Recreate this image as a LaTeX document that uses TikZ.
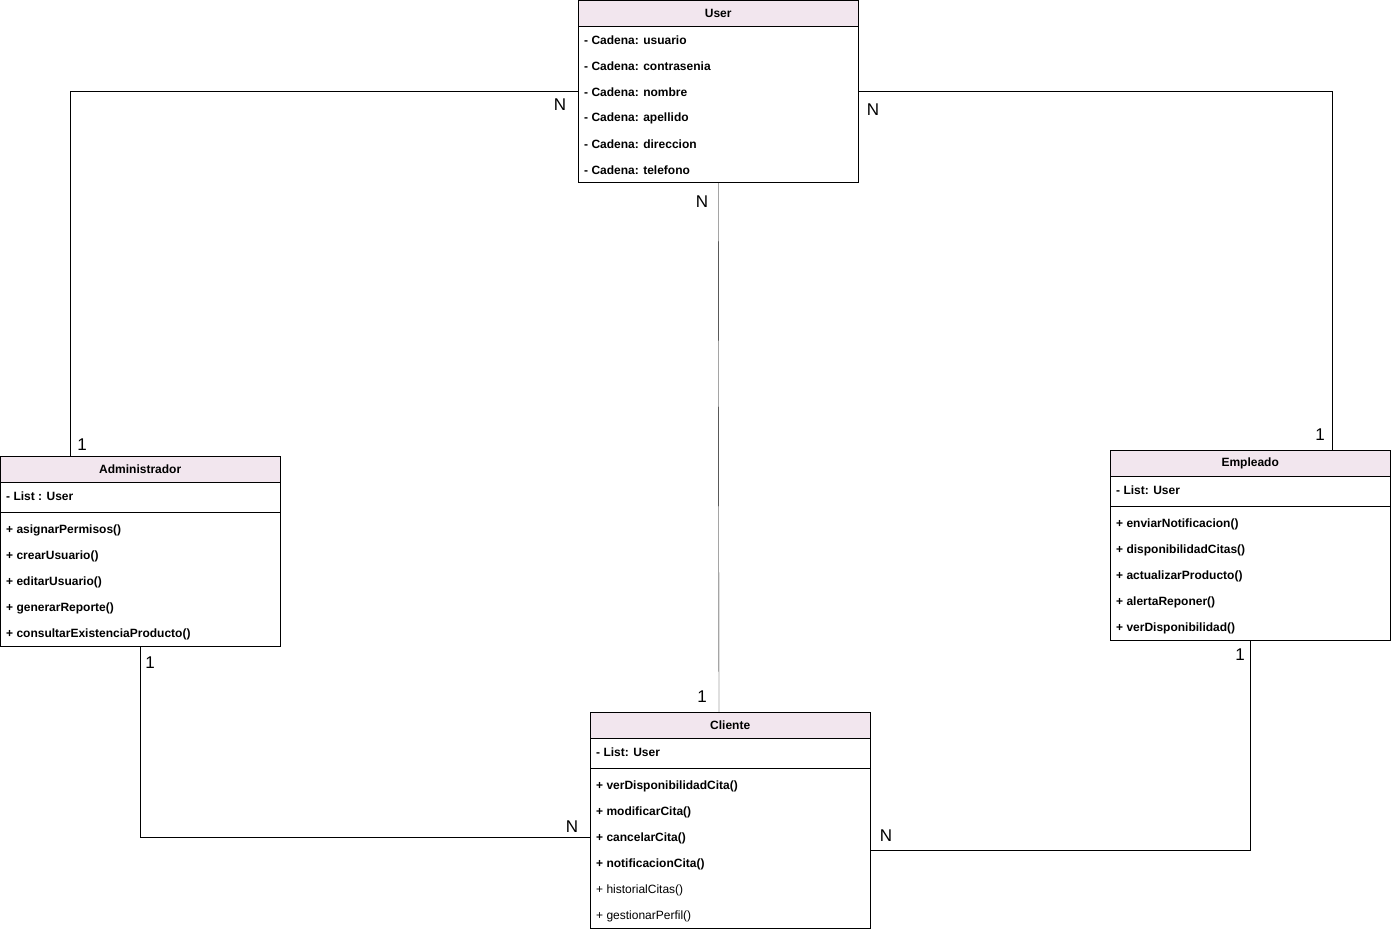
\documentclass[tikz,border=0pt]{standalone}
\usepackage{fontspec}
\setmainfont{Liberation Sans}
\usepackage{tikz}
\definecolor{headpink}{RGB}{242,230,238}

\begin{document}
\begin{tikzpicture}
        [
            x = 1pt, y = -1pt,
            classbox/.style = {rectangle, draw=black, minimum width=280pt, inner sep=0pt, anchor=north west},
            head/.style = {rectangle, draw=black, fill=headpink, minimum width=280pt, minimum height=26pt, inner sep=0pt, anchor=north west, font=\fontsize{12}{14}\selectfont\bfseries},
            row/.style = {anchor=west, inner sep=0pt, yshift=-1pt, font=\fontsize{12}{14}\selectfont\bfseries},
            plainrow/.style = {anchor=west, inner sep=0pt, yshift=-1pt, font=\fontsize{12}{14}\selectfont},
            mult/.style = {inner sep=0pt, yshift=-1pt, font=\fontsize{17}{17}\selectfont}
        ]
        \useasboundingbox (0,0) rectangle (1391,932);

        % User
        \node [classbox, minimum height=182pt] at (578, 0) (user) {};
        \node [head] at (578, 0) (userhead) {User};
        \node [row] at (584, 39) (user1) {- Cadena: usuario};
        \node [row] at (584, 65) (user2) {- Cadena: contrasenia};
        \node [row] at (584, 91) (user3) {- Cadena: nombre};
        \node [row] at (584, 117) (user4) {- Cadena: apellido};
        \node [row] at (584, 143) (user5) {- Cadena: direccion};
        \node [row] at (584, 169) (user6) {- Cadena: telefono};

        % Administrador
        \node [classbox, minimum height=190pt] at (0, 456) (admin) {};
        \node [head] at (0, 456) (adminhead) {Administrador};
        \node [row] at (6, 495) (adminattr) {- List : User};
        \draw (admin.west |- 0,512) -- (admin.east |- 0,512);
        \node [row] at (6, 529) (admin1) {+ asignarPermisos()};
        \node [row] at (6, 555) (admin2) {+ crearUsuario()};
        \node [row] at (6, 581) (admin3) {+ editarUsuario()};
        \node [row] at (6, 607) (admin4) {+ generarReporte()};
        \node [row] at (6, 633) (admin5) {+ consultarExistenciaProducto()};

        % Empleado
        \node [classbox, minimum height=190pt] at (1110, 450) (empleado) {};
        \node [head] at (1110, 450) (empleadohead) {Empleado};
        \node [row] at (1116, 489) (empleadoattr) {- List: User};
        \draw (empleado.west |- 0,506) -- (empleado.east |- 0,506);
        \node [row] at (1116, 523) (empleado1) {+ enviarNotificacion()};
        \node [row] at (1116, 549) (empleado2) {+ disponibilidadCitas()};
        \node [row] at (1116, 575) (empleado3) {+ actualizarProducto()};
        \node [row] at (1116, 601) (empleado4) {+ alertaReponer()};
        \node [row] at (1116, 627) (empleado5) {+ verDisponibilidad()};

        % Cliente
        \node [classbox, minimum height=216pt] at (590, 712) (cliente) {};
        \node [head] at (590, 712) (clientehead) {Cliente};
        \node [row] at (596, 751) (clienteattr) {- List: User};
        \draw (cliente.west |- 0,768) -- (cliente.east |- 0,768);
        \node [row] at (596, 785) (cliente1) {+ verDisponibilidadCita()};
        \node [row] at (596, 811) (cliente2) {+ modificarCita()};
        \node [row] at (596, 837) (cliente3) {+ cancelarCita()};
        \node [row] at (596, 863) (cliente4) {+ notificacionCita()};
        \node [plainrow] at (596, 889) (cliente5) {+ historialCitas()};
        \node [plainrow] at (596, 915) (cliente6) {+ gestionarPerfil()};

        % connection points
        \coordinate (adminin) at (70, 456);
        \coordinate (empleadoin) at (1332, 450);
        \coordinate (clientein) at (719, 712);
        \coordinate (clienteleft) at (590, 837);
        \coordinate (clienteright) at (870, 850);

        \draw (user.west) -| (adminin);
        \draw (user.east) -| (empleadoin);
        \draw (user.south) -- (clientein);
        \draw (admin.south) |- (clienteleft);
        \draw (empleado.south) |- (clienteright);

        % multiplicities
        \node [mult] at (560, 104) (m1) {N};
        \node [mult] at (82, 444) (m2) {1};
        \node [mult] at (873, 109) (m3) {N};
        \node [mult] at (1320, 434) (m4) {1};
        \node [mult] at (702, 201) (m5) {N};
        \node [mult] at (702, 696) (m6) {1};
        \node [mult] at (150, 662) (m7) {1};
        \node [mult] at (572, 826) (m8) {N};
        \node [mult] at (1240, 654) (m9) {1};
        \node [mult] at (886, 835) (m10) {N};
\end{tikzpicture}
\end{document}
